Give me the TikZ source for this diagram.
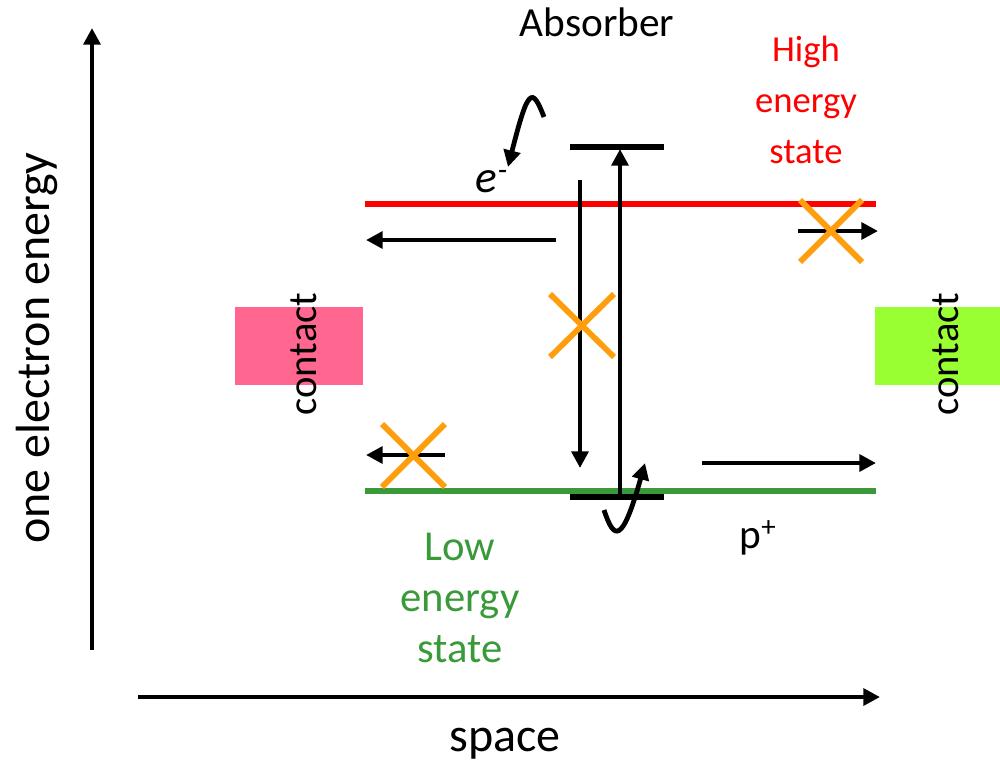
\documentclass[tikz,border=0pt]{standalone}
\usepackage{fontspec}
\setmainfont{Carlito}
\usetikzlibrary{arrows.meta}
\definecolor{xorange}{HTML}{FF9E0D}
\definecolor{lowgreen}{HTML}{3A9A3A}
\definecolor{pinkc}{HTML}{FF6690}
\definecolor{limec}{HTML}{99FF33}
\tikzset{
  thick line/.style={line width=3.9pt},
  arr/.style={line width=3.6pt,-{Triangle[length=12.5pt,width=12.5pt]}},
  cross/.style={line width=4.3pt,draw=xorange},
  lbl/.style={align=center,inner sep=0pt},
}
\begin{document}
\begin{tikzpicture}[x=0.75pt,y=-0.75pt]
\useasboundingbox (0,0) rectangle (1000,765);
% axes
\coordinate (ya) at (92,650); \coordinate (yb) at (92,28);
\coordinate (xa) at (138,697); \coordinate (xb) at (880,697);
\draw[arr] (ya) -- (yb);
\draw[arr] (xa) -- (xb);
\node[lbl,rotate=90,font=\fontsize{36}{40}\selectfont] (yl) at (37,348) {one electron energy};
\node[lbl,font=\fontsize{36}{40}\selectfont] (xl) at (505,744) {space};
\node[lbl,font=\fontsize{31}{36}\selectfont] (abs) at (597,22) {Absorber};
\node[lbl,text=red,font=\fontsize{27.5}{38}\selectfont] (high) at (806,100) {High\\energy\\state};
\node[lbl,text=lowgreen,font=\fontsize{32}{38}\selectfont] (low) at (460,598) {Low\\energy\\state};
% contacts
\node[fill=pinkc,minimum width=96pt,minimum height=58.5pt,inner sep=0pt] (cl) at (299,346) {};
\node[fill=limec,minimum width=93.75pt,minimum height=58.5pt,inner sep=0pt] (cr) at (937.5,346) {};
\node[lbl,rotate=90,font=\fontsize{30.5}{34}\selectfont] (clt) at (304,354) {contact};
\node[lbl,rotate=90,font=\fontsize{30.5}{34}\selectfont] (crt) at (946,354) {contact};
% energy levels
\coordinate (ra) at (365,204); \coordinate (rb) at (876,204);
\coordinate (ga) at (365,491); \coordinate (gb) at (876,491);
\draw[thick line,red] (ra) -- (rb);
\draw[thick line,lowgreen] (ga) -- (gb);
\coordinate (ta) at (570,147); \coordinate (tb) at (664,147);
\coordinate (ba) at (570,497); \coordinate (bb) at (664,497);
\draw[thick line] (ta) -- (tb);
\draw[thick line] (ba) -- (bb);
% vertical transitions
\coordinate (u1) at (620,497); \coordinate (u2) at (620,149);
\draw[arr] (u1) -- (u2);
\coordinate (d1) at (580,180); \coordinate (d2) at (580,468);
\draw[arr] (d1) -- (d2);
% horizontal arrows
\coordinate (h1a) at (556,240); \coordinate (h1b) at (366,240);
\draw[arr] (h1a) -- (h1b);
\coordinate (h2a) at (798,231); \coordinate (h2b) at (878,231);
\draw[arr] (h2a) -- (h2b);
\coordinate (h3a) at (445,455); \coordinate (h3b) at (366,455);
\draw[arr] (h3a) -- (h3b);
\coordinate (h4a) at (702,463); \coordinate (h4b) at (876,463);
\draw[arr] (h4a) -- (h4b);
% crosses
\coordinate (x1a) at (800,200); \coordinate (x1b) at (862,262);
\coordinate (x1c) at (800,262); \coordinate (x1d) at (862,200);
\draw[cross] (x1a) -- (x1b); \draw[cross] (x1c) -- (x1d);
\coordinate (x2a) at (550,294); \coordinate (x2b) at (614,357);
\coordinate (x2c) at (550,357); \coordinate (x2d) at (614,294);
\draw[cross] (x2a) -- (x2b); \draw[cross] (x2c) -- (x2d);
\coordinate (x3a) at (382,424); \coordinate (x3b) at (445,487);
\coordinate (x3c) at (382,487); \coordinate (x3d) at (445,424);
\draw[cross] (x3a) -- (x3b); \draw[cross] (x3c) -- (x3d);
% electron
\node[lbl,font=\fontsize{34}{38}\selectfont\itshape] (e) at (492,182) {e\textsuperscript{-}};
\coordinate (s1) at (544,117); \coordinate (s2) at (508,167);
\draw[arr] (s1) .. controls (532,86) and (528,88) .. (s2);
% hole
\coordinate (p1) at (604,510); \coordinate (p2) at (645,463);
\draw[arr] (p1) .. controls (614,540) and (622,545) .. (p2);
\node[lbl,font=\fontsize{31}{36}\selectfont] (p) at (758,538) {p\textsuperscript{+}};
\end{tikzpicture}
\end{document}
